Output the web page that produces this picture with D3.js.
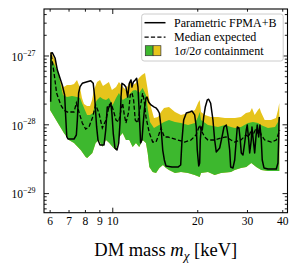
<!DOCTYPE html>
<html><head><meta charset="utf-8">
<script src="https://cdn.jsdelivr.net/npm/d3@7"></script>
<style>
body{margin:0;background:#fff}
svg{display:block}
text{font-family:"Liberation Serif","Times New Roman",serif;fill:#000}
</style>
</head><body>
<svg id="c" width="299" height="271"></svg>
<script>
// Cross-section values in units of 1e-28 (cm^2); masses in keV
const UNIT = 1e-28;

const upper2Mass = [6.02,6.115,6.27,6.42,6.53,6.635,6.74,6.91,7.14,7.32,7.5,7.69,7.81,7.94,8.14,8.34,8.48,8.61,8.83,9.05,9.27,9.5,9.73,9.97,10.31,10.56,10.82,11.18,11.46,11.65,11.84,12.13,12.43,12.74,13.06,13.27,13.49,13.71,14.05,14.52,14.88,15.25,15.88,16.68,17.51,18.55,19.63,20.12,20.4,20.62,21.3,22.37,23.68,25.07,26.33,27.2,28.57,29.76,30.74,31.25,31.94,32.81,33.27,33.62,34.66,36.49,38.01,38.63,39.05];
const upper2 = [11.24,10.5,8.6,5.76,4.41,3.73,3.48,3.73,3.73,3.85,4.41,3.37,2.41,1.97,1.85,1.85,2.26,3.15,4.12,4.41,3.6,3.85,4.12,3.15,3.48,4.12,3.6,3.15,3.98,4.41,3.73,3.98,4.71,5.21,5.57,3.73,2.41,1.78,1.235,1.28,1.51,1.73,1.78,1.51,1.37,1.46,1.61,2.04,2.26,1.51,1.37,1.28,1.28,1.235,1.235,1.235,1.28,1.46,1.51,1.73,1.37,1.61,1.73,1.51,1.155,1.155,1.235,1.61,2.04];

const upper1Mass = [6.02,6.115,6.27,6.42,6.58,6.69,6.91,7.2,7.5,7.69,7.81,8.0,8.14,8.34,8.55,8.68,8.83,9.05,9.27,9.5,9.73,10.03,10.31,10.56,10.88,11.18,11.46,11.84,12.13,12.43,12.81,13.16,13.38,13.6,14.05,14.64,15.25,15.88,16.68,17.51,18.55,19.63,20.12,20.4,20.62,21.83,23.68,25.07,26.33,27.2,28.57,30.25,31.5,32.81,33.62,35.6,37.7,38.63,39.05];
const upper1 = [10.17,8.6,7.04,5.76,3.6,2.67,2.49,2.58,2.49,2.41,2.04,1.61,1.37,1.37,1.46,2.0,2.26,2.49,2.33,2.26,2.41,1.91,2.41,2.85,2.26,2.41,2.67,3.1,3.15,2.85,3.37,2.67,1.61,1.08,0.884,0.977,1.08,1.155,1.08,1.044,0.977,1.044,1.28,1.51,1.155,0.977,0.914,0.977,0.914,0.884,0.914,1.044,1.08,1.044,0.977,0.884,0.914,1.08,1.37];

const lowerMass = [6.02,6.48,6.74,7.02,7.32,7.73,8.05,8.15,8.5,8.73,8.97,9.22,9.5,9.76,10.03,10.31,10.59,10.88,11.18,11.49,11.81,12.13,12.46,12.81,13.16,13.35,13.53,13.9,14.29,14.68,15.12,15.5,15.88,16.68,17.51,18.55,19.58,20.4,20.62,21.83,23.05,24.27,26.33,27.14,28.57,29.83,31.07,32.36,33.71,35.6,37.62,39.05];
const lower = [1.61,0.977,0.747,0.591,0.535,0.423,0.335,0.324,0.383,0.535,0.591,0.47,0.591,0.535,0.468,0.42,0.654,0.747,0.591,0.591,0.468,0.535,0.468,0.591,0.535,0.383,0.239,0.203,0.196,0.232,0.256,0.232,0.217,0.196,0.203,0.196,0.183,0.171,0.196,0.203,0.183,0.196,0.203,0.217,0.232,0.239,0.274,0.239,0.217,0.21,0.21,0.21];

const medianMass = [6.08,6.22,6.35,6.57,6.74,6.93,7.32,7.46,7.62,7.83,8.05,8.27,8.5,8.73,8.97,9.22,9.5,9.76,9.89,10.08,10.31,10.54,10.74,10.88,11.03,11.18,11.43,11.58,11.74,11.9,12.06,12.3,12.57,12.81,12.99,13.16,13.53,13.9,14.29,14.6,14.88,15.29,15.75,16.14,17.09,18.05,19.0,19.8,20.4,20.62,21.25,21.83,23.05,24.27,25.28,26.33,27.14,28.57,29.76,30.42,31.07,31.5,32.1,32.62,33.27,33.71,34.66,36.58,38.1,38.85,39.18];
const median = [10.17,5.57,2.85,1.91,1.61,1.51,1.51,2.04,1.51,1.044,0.855,0.914,1.235,1.91,1.46,0.884,1.155,1.91,2.04,1.61,1.155,1.08,1.61,2.04,1.37,1.044,1.51,2.67,2.9,2.26,1.155,1.044,1.78,2.85,2.11,1.28,0.747,0.553,0.553,0.699,0.884,0.654,0.654,0.632,0.591,0.553,0.591,0.699,0.977,0.826,0.654,0.591,0.591,0.632,0.654,0.591,0.553,0.591,0.699,0.654,0.826,0.699,0.826,0.747,0.826,0.699,0.591,0.553,0.591,0.747,0.826];

const observedMass = [6.05,6.07,6.13,6.27,6.39,6.53,6.65,6.78,6.84,6.9,6.97,7.32,7.46,7.52,7.6,7.69,7.83,8.15,8.39,8.56,8.66,8.8,8.9,9.05,9.35,9.48,9.6,9.76,9.89,9.97,10.08,10.22,10.39,10.54,10.65,10.74,10.82,11.03,11.18,11.34,11.49,11.65,11.74,11.87,12.06,12.2,12.33,12.46,12.6,12.74,12.87,13.02,13.16,13.27,13.45,13.71,14.09,14.29,14.49,14.68,14.88,15.09,15.29,15.5,16.27,17.09,17.47,17.66,17.9,18.29,18.8,19.16,19.58,19.84,20.0,20.24,20.4,20.5,20.67,20.84,21.08,21.35,21.7,21.95,22.31,22.73,23.05,23.35,24.01,24.47,24.87,25.34,25.69,26.05,26.26,26.76,27.14,27.49,27.72,28.1,28.4,28.64,29.04,29.44,29.83,30.07,30.42,30.67,31.07,31.25,31.58,31.94,32.28,32.62,33.0,33.35,33.71,33.98,34.46,35.6,37.09,38.1,38.63,38.85,38.95,39.05];
const observed = [2.13,10.87,10.98,9.2,6.15,4.66,3.73,2.67,1.28,0.66,0.611,0.611,0.699,1.155,2.85,3.52,3.94,4.16,4.3,3.94,2.52,0.923,0.591,0.5,0.5,0.826,1.78,1.78,2.02,1.445,0.74,0.452,0.423,0.535,1.044,2.49,3.94,3.73,3.48,2.49,3.94,4.41,3.48,4.12,4.41,4.66,3.48,1.46,0.535,0.591,1.044,1.78,2.41,2.49,2.11,1.91,1.78,1.73,1.61,1.46,0.914,0.423,0.303,0.248,0.239,0.239,0.256,0.591,1.155,1.46,1.51,1.56,1.37,0.914,0.423,0.248,0.274,0.591,0.914,0.826,1.28,1.78,2.26,2.31,2.02,1.155,0.591,0.396,0.452,0.654,0.914,0.977,0.699,0.423,0.239,0.232,0.303,0.591,0.914,0.884,0.591,0.383,0.358,0.535,0.826,0.977,0.591,0.383,0.591,0.914,0.591,0.383,0.654,0.977,0.654,0.977,0.591,0.303,0.232,0.224,0.224,0.224,0.274,0.591,1.044,1.28];

const xTickLabels = [6,7,8,9,10,20,30,40];
const xMajorTicks = [10];
const yMajorTicks = [1e-29,1e-28,1e-27];
const legendLabels = ["Parametric FPMA+B","Median expected","1σ/2σ containment"];

const GREEN = "#3db82e", YELLOW = "#e6c41c";
const X0 = 44, X1 = 287.5, Y0 = 9, Y1 = 212.7;

const svg = d3.select("#c");
const x = d3.scaleLog().domain([5.73, 41.75]).range([X0, X1]);
const y = d3.scaleLog().domain([5.19e-30, 4.74e-27]).range([Y1, Y0]);

const pts = (ms, vs) => d3.zip(ms, vs).map(([m, v]) => [m, v * UNIT]);
const line = d3.line().x(d => x(d[0])).y(d => y(d[1]));

svg.append("defs").append("clipPath").attr("id","clip")
  .append("rect").attr("x",X0).attr("y",Y0).attr("width",X1-X0).attr("height",Y1-Y0);

const plot = svg.append("g").attr("clip-path","url(#clip)");
const lowRev = pts(lowerMass, lower).reverse();
plot.append("path").attr("d", line(pts(upper2Mass, upper2).concat(lowRev)) + "Z").attr("fill", YELLOW);
plot.append("path").attr("d", line(pts(upper1Mass, upper1).concat(lowRev)) + "Z").attr("fill", GREEN);
plot.append("path").attr("d", line(pts(medianMass, median))).attr("fill","none")
  .attr("stroke","#000").attr("stroke-width",1.3).attr("stroke-dasharray","4.2,2.2");
plot.append("path").attr("d", line(pts(observedMass, observed))).attr("fill","none")
  .attr("stroke","#000").attr("stroke-width",1.5).attr("stroke-linejoin","round");

// minor ticks
const xMinorTicks = xTickLabels.filter(v => !xMajorTicks.includes(v));
const yMinorTicks = [];
for (let e = -30; e <= -27; e++) for (let k = 2; k <= 9; k++) {
  const v = k * Math.pow(10, e);
  if (v > 5.19e-30 && v < 4.74e-27) yMinorTicks.push(v);
}
const MAJ = 5, MIN = 2.7;
function axisG(axis, tx, ty) {
  const g = svg.append("g").attr("transform", `translate(${tx},${ty})`).call(axis);
  g.select(".domain").remove();
  g.selectAll("line").attr("stroke","#000").attr("stroke-width",0.9);
  return g;
}
[[d3.axisBottom, 0, Y1], [d3.axisTop, 0, Y0]].forEach(([A, tx, ty]) => {
  axisG(A(x).tickValues(xMajorTicks).tickSize(-MAJ).tickFormat(""), tx, ty).selectAll("text").remove();
  axisG(A(x).tickValues(xMinorTicks).tickSize(-MIN).tickFormat(""), tx, ty).selectAll("text").remove();
});
[[d3.axisLeft, X0, 0], [d3.axisRight, X1, 0]].forEach(([A, tx, ty]) => {
  axisG(A(y).tickValues(yMajorTicks).tickSize(-MAJ).tickFormat(""), tx, ty).selectAll("text").remove();
  axisG(A(y).tickValues(yMinorTicks).tickSize(-MIN).tickFormat(""), tx, ty).selectAll("text").remove();
});

// x tick labels
const xl = axisG(d3.axisBottom(x).tickValues(xTickLabels).tickSize(0).tickPadding(4.2).tickFormat(d3.format("d")), 0, Y1);
xl.selectAll("text").attr("font-size", 11.5).attr("font-family", '"Liberation Serif",serif');

// y tick labels with superscripts
const yl = axisG(d3.axisLeft(y).tickValues(yMajorTicks).tickSize(0).tickPadding(8.5).tickFormat(""), X0, 0);
yl.selectAll("text").attr("dy", "0.42em").attr("font-size", 11.5).attr("font-family", '"Liberation Serif",serif')
  .each(function(d) {
    const t = d3.select(this);
    t.append("tspan").text("10");
    t.append("tspan").attr("dy", -5.2).attr("font-size", 8).text("\u2212" + Math.round(-Math.log10(d)));
  });

// frame
svg.append("rect").attr("x",X0).attr("y",Y0).attr("width",X1-X0).attr("height",Y1-Y0)
  .attr("fill","none").attr("stroke","#000").attr("stroke-width",1.1);

// x-axis label
const xt = svg.append("text").attr("x",(X0+X1)/2).attr("y",256).attr("text-anchor","middle").attr("font-size",18.5);
xt.append("tspan").text("DM mass ");
xt.append("tspan").attr("font-style","italic").text("m");
xt.append("tspan").attr("font-style","italic").attr("font-size",13).attr("dy",3.5).text("χ");
xt.append("tspan").attr("dy",-3.5).text(" [keV]");

// legend
const lg = svg.append("g");
lg.append("rect").attr("x",141.7).attr("y",14).attr("width",141.5).attr("height",47).attr("rx",2.5)
  .attr("fill","#fff").attr("fill-opacity",0.85).attr("stroke","#cccccc").attr("stroke-width",1);
const rowY = [22.7, 37.2, 51.2];
lg.append("line").attr("x1",144.5).attr("x2",165.5).attr("y1",rowY[0]).attr("y2",rowY[0])
  .attr("stroke","#000").attr("stroke-width",1.5);
lg.append("line").attr("x1",144.5).attr("x2",165.5).attr("y1",rowY[1]).attr("y2",rowY[1])
  .attr("stroke","#000").attr("stroke-width",1.3).attr("stroke-dasharray","4.2,2.2");
lg.append("rect").attr("x",145.3).attr("y",rowY[2]-5.5).attr("width",7.8).attr("height",10)
  .attr("fill",GREEN).attr("stroke","#333").attr("stroke-width",0.7);
lg.append("rect").attr("x",153.1).attr("y",rowY[2]-5.5).attr("width",7.8).attr("height",10)
  .attr("fill",YELLOW).attr("stroke","#333").attr("stroke-width",0.7);
legendLabels.forEach((s, i) => {
  const t = lg.append("text").attr("x",174).attr("y",rowY[i]+4).attr("font-size",12);
  if (i < 2) { t.text(s); return; }
  t.append("tspan").text("1");
  t.append("tspan").attr("font-style","italic").text("σ");
  t.append("tspan").text("/2");
  t.append("tspan").attr("font-style","italic").text("σ");
  t.append("tspan").text(" containment");
});
</script>
</body></html>
